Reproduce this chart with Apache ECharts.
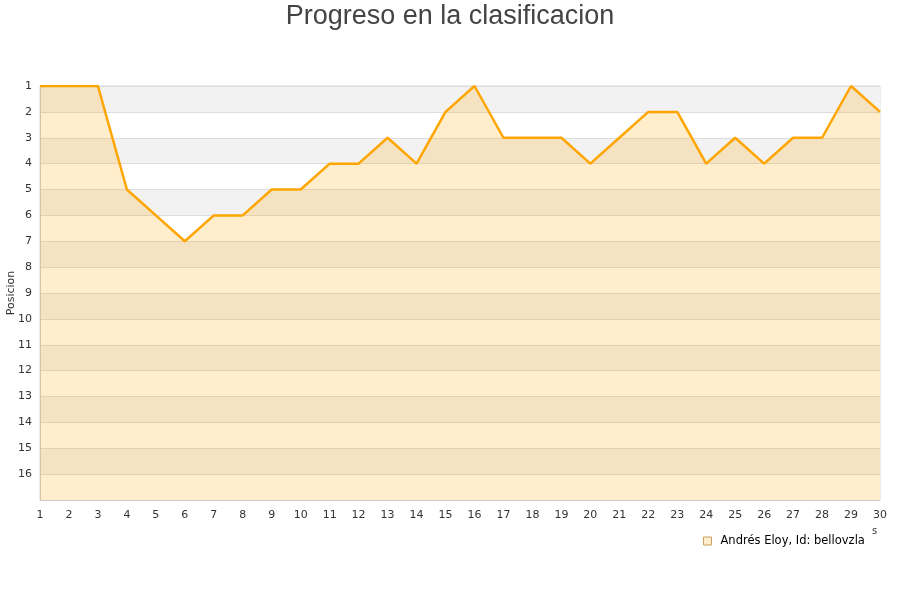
<!DOCTYPE html>
<html><head><meta charset="utf-8">
<script src="https://cdn.jsdelivr.net/npm/echarts@6/dist/echarts.min.js"></script>
<style>html,body{margin:0;padding:0;background:#fff}#c{width:900px;height:600px}</style>
</head><body><div id="c"></div>
<script>
const jornadas = [1,2,3,4,5,6,7,8,9,10,11,12,13,14,15,16,17,18,19,20,21,22,23,24,25,26,27,28,29,30];
const posiciones = [1,1,1,5,6,7,6,6,5,5,4,4,3,4,2,1,3,3,3,4,3,2,2,4,3,4,3,3,1,2];
const seriesName = 'Andrés Eloy, Id: bellovzla';
const titleText = 'Progreso en la clasificacion';
const yAxisName = 'Posicion';

const chart = echarts.init(document.getElementById('c'), null, {renderer:'canvas'});
chart.setOption({
  animation:false,
  title:{text:titleText,left:'center',top:-2,textStyle:{fontFamily:'Liberation Sans',fontSize:27,fontWeight:'normal',color:'#444'}},
  grid:{left:40,right:20,top:86,bottom:100,show:true,borderColor:'#ddd',borderWidth:1,outerBoundsMode:'none',containLabel:false},
  legend:{data:[{name:seriesName,icon:'rect'}],left:698,top:530,itemWidth:8,itemHeight:8,itemGap:10,
    textStyle:{fontFamily:'DejaVu Sans',fontSize:11.5,color:'#000',padding:[0,0,0,4]},
    itemStyle:{color:'#ffedcc',borderColor:'#c8a060',borderWidth:1}},
  xAxis:{type:'category',data:jornadas,boundaryGap:false,
    axisLine:{lineStyle:{color:'#ccc'}},axisTick:{show:false},
    axisLabel:{fontFamily:'DejaVu Sans',fontSize:11,color:'#333',margin:10,interval:0},
    splitLine:{show:false}},
  yAxis:{type:'value',inverse:true,min:1,max:17,interval:1,name:yAxisName,nameLocation:'middle',nameGap:23,nameMoveOverlap:false,
    nameTextStyle:{fontFamily:'DejaVu Sans',fontSize:11,color:'#333'},
    axisLine:{show:true,lineStyle:{color:'#ccc'}},axisTick:{show:false},
    axisLabel:{fontFamily:'DejaVu Sans',fontSize:11,color:'#333',margin:8,formatter:v=>v===17?'':String(v)},
    splitLine:{show:true,lineStyle:{color:'#ddd'}},
    splitArea:{show:true,areaStyle:{color:['#f2f2f2','#ffffff'],opacity:1}}},
  graphic:[{type:'text',left:872,top:526,style:{text:'s',font:'10px DejaVu Sans',fill:'#333'}}],
  series:[{name:seriesName,type:'line',data:posiciones,symbol:'none',
    lineStyle:{color:'#ffa500',width:2.5},
    itemStyle:{color:'#ffedcc'},
    areaStyle:{color:'rgba(255,165,0,0.2)',opacity:1,origin:'end'}}]
});
</script></body></html>
